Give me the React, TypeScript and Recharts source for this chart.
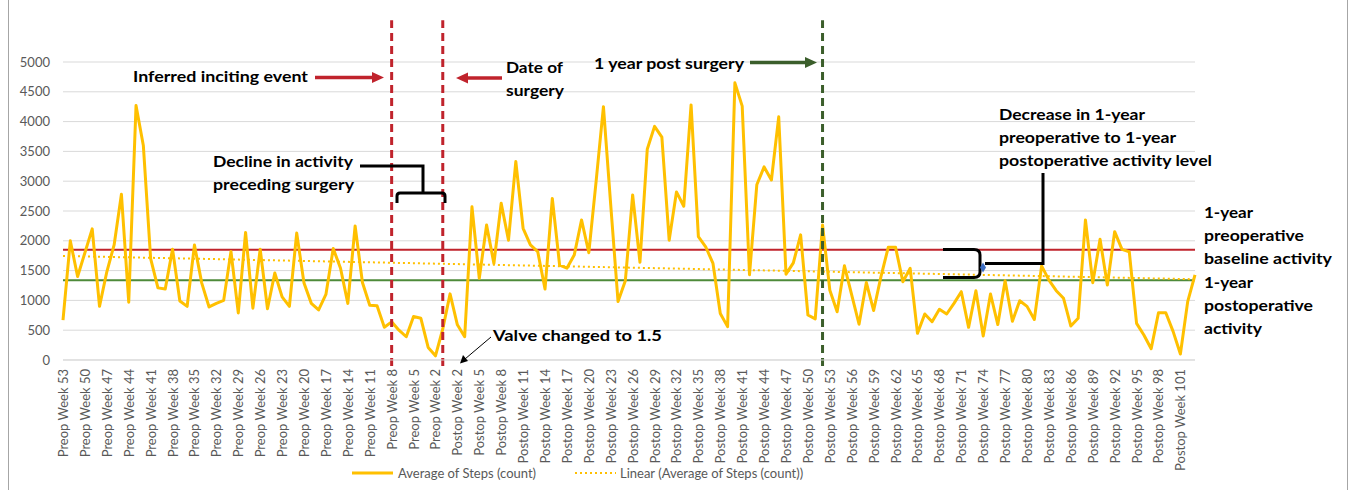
import React from 'react';
import { LineChart, Line, XAxis, YAxis, CartesianGrid, ReferenceLine } from 'recharts';

const preopWeeks: string[] = Array.from({ length: 53 }, (_, i) => `Preop Week ${53 - i}`);
const postopWeeks: string[] = Array.from({ length: 103 }, (_, i) => `Postop Week ${i + 1}`);
const categories: string[] = [...preopWeeks, ...postopWeeks];

const steps: number[] = [
  670, 2000, 1400, 1800, 2200, 900, 1480, 1930, 2780, 970,
  4270, 3600, 1700, 1210, 1190, 1860, 990, 900, 1930, 1290,
  890, 950, 1000, 1820, 790, 2140, 870, 1860, 860, 1460,
  1060, 900, 2130, 1290, 950, 840, 1100, 1870, 1540, 950,
  2250, 1300, 920, 910, 550, 640, 500, 390, 730, 700,
  210, 70, 520, 1110, 590, 390, 2570, 1370, 2265, 1620,
  2630, 2010, 3330, 2210, 1930, 1820, 1190, 2710, 1590, 1540,
  1760, 2350, 1800, 3000, 4250, 2600, 980, 1330, 2770, 1640,
  3535, 3920, 3740, 2010, 2820, 2580, 4280, 2070, 1900, 1620,
  780, 560, 4650, 4260, 1430, 2940, 3240, 3020, 4080, 1440,
  1630, 2100, 755, 690, 2265, 1170, 810, 1580, 1090, 600,
  1300, 830, 1400, 1890, 1890, 1314, 1538, 447, 772, 643,
  850, 772, 950, 1146, 548, 1163, 403, 1107, 595, 1331,
  650, 995, 900, 680, 1580, 1340, 1163, 1035, 570, 699,
  2350, 1297, 2025, 1258, 2153, 1857, 1817, 615, 420, 190,
  794, 794, 480, 100, 980, 1430,
];

const yTicks: number[] = [0, 500, 1000, 1500, 2000, 2500, 3000, 3500, 4000, 4500, 5000];
const preopBaseline = 1850;
const postopBaseline = 1340;
const trendStart = 1745;
const trendEnd = 1355;
const incitingWeek = 'Preop Week 8';
const surgeryWeek = 'Preop Week 1';
const oneYearWeek = 'Postop Week 52';

const data = categories.map((c, i) => ({ week: c, steps: steps[i] }));

const FONT = 'Lato, "Liberation Sans", Arial, sans-serif';

const XTick = (props: any) => {
  const { x, y, payload } = props;
  return (
    <text
      x={x}
      y={y + 1}
      transform={`rotate(-90 ${x} ${y + 1})`}
      textAnchor="end"
      dominantBaseline="central"
      fontSize={13}
      fill="#595959"
      fontFamily={FONT}
    >
      {payload.value}
    </text>
  );
};

const T = ({ x, y, w, children }: any) => (
  <text
    x={x}
    y={y}
    dominantBaseline="central"
    fontFamily={FONT}
    fontWeight={700}
    fontSize={16}
    fill="#000"
    textLength={w}
    lengthAdjust="spacingAndGlyphs"
  >
    {children}
  </text>
);

const RED = '#C0232C';
const GREEN_DARK = '#3B5E2B';

export default function App() {
  return (
    <div style={{ position: 'absolute', left: 0, top: 0, width: 1348, height: 490, background: '#fff' }}>
      <div style={{ position: 'absolute', left: 8, top: 0, width: 1338, height: 490, borderLeft: '1px solid #a6a6a6', borderRight: '1px solid #a6a6a6' }} />
      <LineChart
        width={1348}
        height={490}
        data={data}
        margin={{ top: 62, right: 153, bottom: 30, left: 13 }}
        style={{ position: 'absolute', left: 0, top: 0 }}
      >
        <CartesianGrid vertical={false} stroke="#d9d9d9" strokeWidth={1} />
        <XAxis
          dataKey="week"
          interval={2}
          tickLine={false}
          axisLine={{ stroke: '#d9d9d9' }}
          height={100}
          tick={<XTick />}
        />
        <YAxis
          width={50}
          domain={[0, 5000]}
          ticks={yTicks}
          axisLine={false}
          tickLine={false}
          tickMargin={7}
          tick={{ fontSize: 13, fill: '#595959', fontFamily: FONT }}
        />
        <ReferenceLine y={preopBaseline} stroke={RED} strokeWidth={2} ifOverflow="visible" />
        <ReferenceLine y={postopBaseline} stroke="#4E8A3A" strokeWidth={2} ifOverflow="visible" />
        <ReferenceLine
          segment={[{ x: categories[0], y: trendStart }, { x: categories[categories.length - 1], y: trendEnd }]}
          stroke="#FFC000"
          strokeWidth={2}
          strokeDasharray="2 3"
          ifOverflow="visible"
        />
        <Line
          type="linear"
          dataKey="steps"
          stroke="#FFC000"
          strokeWidth={3}
          dot={false}
          activeDot={false}
          strokeLinejoin="round"
          isAnimationActive={false}
        />
        <ReferenceLine
          segment={[{ x: incitingWeek, y: -100 }, { x: incitingWeek, y: 5700 }]}
          stroke={RED}
          strokeWidth={3}
          strokeDasharray="8 5"
          ifOverflow="visible"
        />
        <ReferenceLine
          segment={[{ x: surgeryWeek, y: -100 }, { x: surgeryWeek, y: 5700 }]}
          stroke={RED}
          strokeWidth={3}
          strokeDasharray="8 5"
          ifOverflow="visible"
        />
        <ReferenceLine
          segment={[{ x: oneYearWeek, y: -100 }, { x: oneYearWeek, y: 5700 }]}
          stroke={GREEN_DARK}
          strokeWidth={3}
          strokeDasharray="8 5"
          ifOverflow="visible"
        />
      </LineChart>

      <svg width={1348} height={490} style={{ position: 'absolute', left: 0, top: 0, pointerEvents: 'none' }}>
        {/* Inferred inciting event */}
        <T x={133} y={75.5} w={175}>Inferred inciting event</T>
        <line x1={315} y1={77.5} x2={374} y2={77.5} stroke={RED} strokeWidth={3.5} />
        <polygon points="372,72 384,77.5 372,83" fill={RED} />

        {/* Date of surgery */}
        <T x={506} y={66.5} w={57}>Date of</T>
        <T x={506} y={89} w={58}>surgery</T>
        <line x1={502} y1={78} x2={466} y2={78} stroke={RED} strokeWidth={3.5} />
        <polygon points="468,72.5 456,78 468,83.5" fill={RED} />

        {/* 1 year post surgery */}
        <T x={594} y={62} w={150}>1 year post surgery</T>
        <line x1={750} y1={62.5} x2={807} y2={62.5} stroke={GREEN_DARK} strokeWidth={3.5} />
        <polygon points="805,57 817,62.5 805,68" fill={GREEN_DARK} />

        {/* Decline in activity preceding surgery */}
        <T x={213} y={160} w={140}>Decline in activity</T>
        <T x={213} y={183} w={141}>preceding surgery</T>
        <path d="M360 166 H423 V193" fill="none" stroke="#000" strokeWidth={3} />
        <path d="M397 203 V196 Q397 193 400 193 H442 Q445 193 445 196 V203" fill="none" stroke="#000" strokeWidth={3} />

        {/* Decrease annotation */}
        <T x={999} y={113} w={146}>Decrease in 1-year</T>
        <T x={999} y={136.5} w={177}>preoperative to 1-year</T>
        <T x={999} y={159.5} w={213}>postoperative activity level</T>
        <path d="M943 249.5 H974 Q980 249.5 980 255 V272 Q980 277.5 974 277.5 H943" fill="none" stroke="#000" strokeWidth={3} />
        <path d="M985 263.5 H1043 V173" fill="none" stroke="#000" strokeWidth={3} />
        <polygon points="983,262.5 986,267.5 983,272.5 980,267.5" fill="#3E6FC4" />

        {/* Right side labels */}
        <T x={1204} y={211.5} w={49}>1-year</T>
        <T x={1204} y={234} w={100}>preoperative</T>
        <T x={1204} y={257} w={128}>baseline activity</T>
        <T x={1204} y={281.5} w={49}>1-year</T>
        <T x={1204} y={304.5} w={109}>postoperative</T>
        <T x={1204} y={327} w={58}>activity</T>

        {/* Valve changed */}
        <T x={493} y={334} w={169}>Valve changed to 1.5</T>
        <line x1={491} y1={337} x2={465} y2={359} stroke="#000" strokeWidth={1} />
        <polygon points="460,363.5 463,355 468,361" fill="#000" />
      </svg>

      {/* Legend */}
      <div style={{ position: 'absolute', top: 464, left: 0, width: 1348, height: 18, fontFamily: FONT, fontSize: 13, color: '#595959' }}>
        <svg width={44} height={18} style={{ position: 'absolute', left: 351, top: 0 }}>
          <line x1={1} y1={9} x2={42} y2={9} stroke="#FFC000" strokeWidth={3} />
        </svg>
        <span style={{ position: 'absolute', left: 398, top: 1, whiteSpace: 'nowrap' }}>Average of Steps (count)</span>
        <svg width={44} height={18} style={{ position: 'absolute', left: 574, top: 0 }}>
          <line x1={1} y1={9} x2={42} y2={9} stroke="#FFC000" strokeWidth={2} strokeDasharray="2 3" />
        </svg>
        <span style={{ position: 'absolute', left: 620, top: 1, whiteSpace: 'nowrap' }}>Linear (Average of Steps (count))</span>
      </div>
    </div>
  );
}
